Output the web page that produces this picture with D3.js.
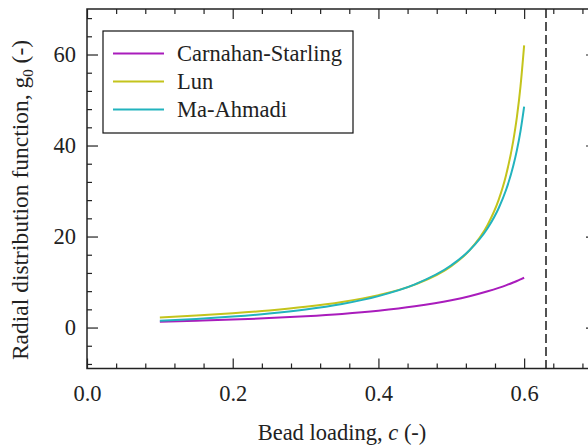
<!DOCTYPE html>
<html>
<head>
<meta charset="utf-8">
<script src="https://cdn.jsdelivr.net/npm/d3@7"></script>
<style>
  html, body { margin: 0; padding: 0; background: #fff; }
  svg { display: block; }
  text { font-family: "Liberation Serif", "Times New Roman", serif; fill: #222; }
</style>
</head>
<body>
<svg id="chart" width="588" height="447"></svg>
<script>
// ---- data ----
const loading = [0.1, 0.15, 0.2, 0.25, 0.3, 0.35, 0.4, 0.45, 0.5, 0.525, 0.55, 0.565, 0.575, 0.585, 0.59, 0.595, 0.6];
const carnahanStarling = [1.30, 1.51, 1.76, 2.07, 2.48, 3.00, 3.70, 4.66, 6.00, 6.88, 7.96, 8.72, 9.28, 9.90, 10.23, 10.58, 10.94];
const lun = [2.18, 2.63, 3.15, 3.77, 4.56, 5.62, 7.12, 9.43, 13.50, 16.95, 22.59, 28.05, 33.35, 40.98, 46.2, 53.0, 62.0];
const maAhmadi = [1.52, 1.90, 2.41, 3.07, 3.96, 5.18, 6.91, 9.48, 13.68, 16.97, 21.87, 26.22, 30.16, 35.48, 38.94, 43.18, 48.56];
const seriesNames = ["Carnahan-Starling", "Lun", "Ma-Ahmadi"];
const seriesColors = ["#a91cbc", "#c4c41c", "#22b3be"];
const maxPacking = 0.63;
const xMajorTicks = [0.0, 0.2, 0.4, 0.6];
const yMajorTicks = [0, 20, 40, 60];
const xDomain = [0, 0.7];
const yDomain = [-9, 70];

// ---- layout ----
const svg = d3.select("#chart");
const pLeft = 87, pRight = 597, pTop = 9, pBottom = 368.5;
const x = d3.scaleLinear().domain(xDomain).range([pLeft, pRight]);
const y = d3.scaleLinear().domain(yDomain).range([pBottom, pTop]);
const FONT = 22.5;
const frameColor = "#222";

const xMinor = d3.range(1, 18).map(i => +(i * 0.04).toFixed(2)).filter(v => Math.abs(v / 0.2 - Math.round(v / 0.2)) > 1e-6);
const yMinor = d3.range(-8, 70, 4).filter(v => v % 20 !== 0);

function styleAxis(g) {
  g.select(".domain").remove();
  g.selectAll("line").attr("stroke", frameColor).attr("stroke-width", 1.2);
  g.selectAll("text").style("font-size", FONT + "px").style("font-family", '"Liberation Serif", serif').attr("fill", "#222");
}

// bottom axis major + labels
svg.append("g").attr("transform", `translate(0,${pBottom})`)
  .call(d3.axisBottom(x).tickValues(xMajorTicks).tickSizeInner(-10).tickSizeOuter(0).tickPadding(17).tickFormat(d3.format(".1f")))
  .call(styleAxis);
svg.append("g").attr("transform", `translate(0,${pBottom})`)
  .call(d3.axisBottom(x).tickValues(xMinor).tickSizeInner(-5).tickSizeOuter(0).tickFormat(""))
  .call(styleAxis);
// top axis
svg.append("g").attr("transform", `translate(0,${pTop})`)
  .call(d3.axisTop(x).tickValues(xMajorTicks).tickSizeInner(-10).tickSizeOuter(0).tickFormat(""))
  .call(styleAxis);
svg.append("g").attr("transform", `translate(0,${pTop})`)
  .call(d3.axisTop(x).tickValues(xMinor).tickSizeInner(-5).tickSizeOuter(0).tickFormat(""))
  .call(styleAxis);
// left axis
svg.append("g").attr("transform", `translate(${pLeft},0)`)
  .call(d3.axisLeft(y).tickValues(yMajorTicks).tickSizeInner(-11).tickSizeOuter(0).tickPadding(11).tickFormat(d3.format("d")))
  .call(styleAxis);
svg.append("g").attr("transform", `translate(${pLeft},0)`)
  .call(d3.axisLeft(y).tickValues(yMinor).tickSizeInner(-5).tickSizeOuter(0).tickFormat(""))
  .call(styleAxis);
// right axis
svg.append("g").attr("transform", `translate(${pRight},0)`)
  .call(d3.axisRight(y).tickValues(yMajorTicks).tickSizeInner(-11).tickSizeOuter(0).tickFormat(""))
  .call(styleAxis);
svg.append("g").attr("transform", `translate(${pRight},0)`)
  .call(d3.axisRight(y).tickValues(yMinor).tickSizeInner(-5).tickSizeOuter(0).tickFormat(""))
  .call(styleAxis);

// frame
svg.append("rect")
  .attr("x", pLeft).attr("y", pTop)
  .attr("width", pRight - pLeft).attr("height", pBottom - pTop)
  .attr("fill", "none").attr("stroke", frameColor).attr("stroke-width", 1.5);

// dashed max packing line
svg.append("line")
  .attr("x1", x(maxPacking)).attr("x2", x(maxPacking))
  .attr("y1", pTop).attr("y2", pBottom)
  .attr("stroke", "#1a1a1a").attr("stroke-width", 1.5)
  .attr("stroke-dasharray", "9,4");

// curves
const allSeries = [carnahanStarling, lun, maAhmadi];
const line = d3.line().x(d => x(d[0])).y(d => y(d[1])).curve(d3.curveMonotoneX);
allSeries.forEach((vals, i) => {
  svg.append("path")
    .datum(loading.map((c, j) => [c, vals[j]]))
    .attr("fill", "none")
    .attr("stroke", seriesColors[i])
    .attr("stroke-width", 2)
    .attr("d", line);
});

// legend
const leg = svg.append("g");
leg.append("rect").attr("x", 103).attr("y", 31).attr("width", 250).attr("height", 102)
  .attr("fill", "#fff").attr("stroke", "#111").attr("stroke-width", 1.2);
seriesNames.forEach((name, i) => {
  const yy = 53.5 + i * 28;
  leg.append("line").attr("x1", 113).attr("x2", 164).attr("y1", yy).attr("y2", yy)
    .attr("stroke", seriesColors[i]).attr("stroke-width", 2);
  leg.append("text").attr("x", 177).attr("y", yy + 7.5)
    .style("font-size", FONT + "px").text(name);
});

// axis titles
const xt = svg.append("text")
  .attr("x", (pLeft + pRight) / 2).attr("y", 440)
  .attr("text-anchor", "middle")
  .style("font-size", FONT + "px");
xt.append("tspan").text("Bead loading, ");
xt.append("tspan").style("font-style", "italic").text("c");
xt.append("tspan").text(" (-)");

const yt = svg.append("text")
  .attr("transform", `translate(28,200) rotate(-90)`)
  .attr("text-anchor", "middle")
  .style("font-size", "23.5px");
yt.append("tspan").text("Radial distribution function, g");
yt.append("tspan").attr("dy", 5).style("font-size", "15px").text("0");
yt.append("tspan").attr("dy", -5).text(" (-)");
</script>
</body>
</html>
